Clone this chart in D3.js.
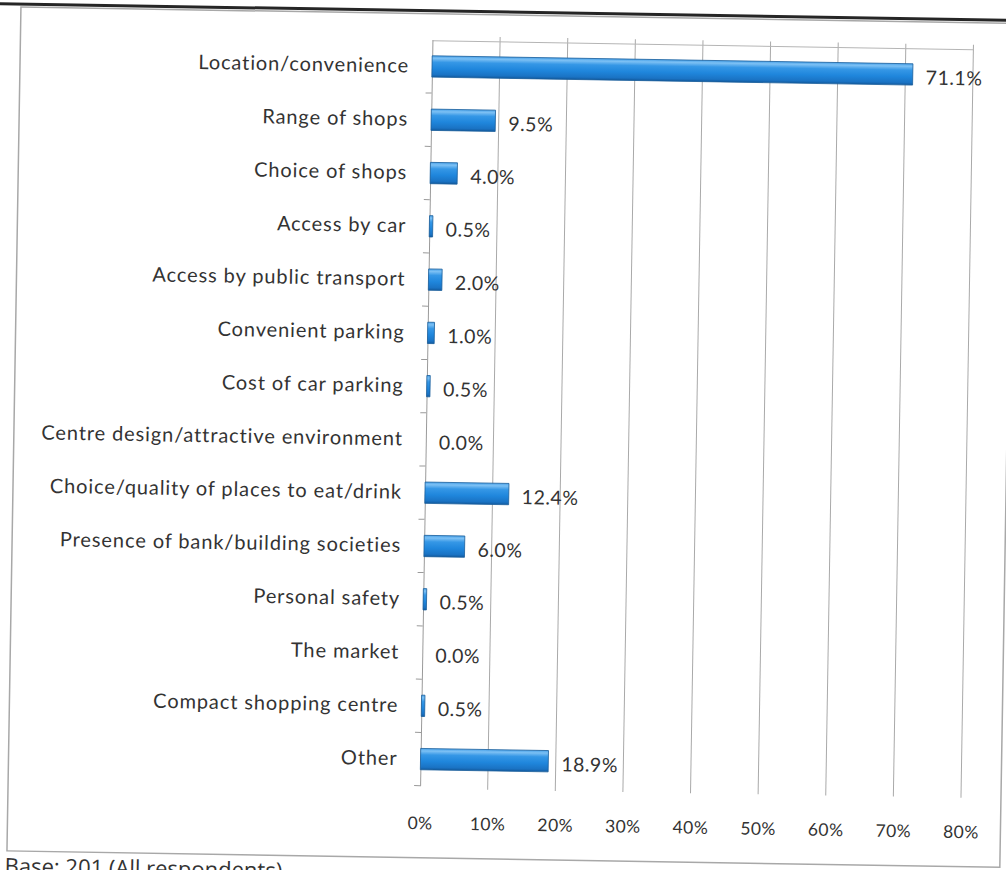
<!DOCTYPE html>
<html>
<head>
<meta charset="utf-8">
<script src="https://cdn.jsdelivr.net/npm/d3@7"></script>
<style>
  html, body { margin: 0; padding: 0; background: #fff; overflow: hidden; }
  svg { display: block; }
  text { font-family: Lato, "Open Sans", sans-serif; fill: #333; }
</style>
</head>
<body>
<svg id="chart" width="1006" height="870"></svg>
<script>
// Reasons for visiting the centre (% of respondents)
const categories = [
  "Location/convenience",
  "Range of shops",
  "Choice of shops",
  "Access by car",
  "Access by public transport",
  "Convenient parking",
  "Cost of car parking",
  "Centre design/attractive environment",
  "Choice/quality of places to eat/drink",
  "Presence of bank/building societies",
  "Personal safety",
  "The market",
  "Compact shopping centre",
  "Other"
];
const values = [71.1, 9.5, 4.0, 0.5, 2.0, 1.0, 0.5, 0.0, 12.4, 6.0, 0.5, 0.0, 0.5, 18.9];
const tickValues = [0, 10, 20, 30, 40, 50, 60, 70, 80];
const tickLabels = ["0%", "10%", "20%", "30%", "40%", "50%", "60%", "70%", "80%"];
const baseNote = "Base: 201 (All respondents)";

const data = categories.map((c, i) => ({ category: c, value: values[i] }));

const svg = d3.select("#chart");

// gradient for the bevelled bars
const defs = svg.append("defs");
const grad = defs.append("linearGradient")
  .attr("id", "barGrad").attr("x1", 0).attr("y1", 0).attr("x2", 0).attr("y2", 1);
[
  [0, "#4aa3ea"], [0.12, "#7cc0f4"], [0.3, "#3597e6"],
  [0.6, "#1f86dc"], [0.88, "#1a73c4"], [1, "#125a9e"]
].forEach(([o, c]) => grad.append("stop").attr("offset", o).attr("stop-color", c));

// whole page is drawn slightly tilted
const page = svg.append("g").attr("transform", "rotate(0.95 500 430)");

// outer chart frame and page edge
page.append("rect")
  .attr("x", 14).attr("y", 15).attr("width", 993).attr("height", 844)
  .attr("fill", "#fff").attr("stroke", "#a8a8a8").attr("stroke-width", 1.5);
page.append("line")
  .attr("x1", -20).attr("x2", 1040).attr("y1", 12).attr("y2", 12)
  .attr("stroke", "#262626").attr("stroke-width", 3);

const x = d3.scaleLinear().domain([0, 80]).range([426, 967]);
const y = d3.scaleBand().domain(categories).range([41, 787]).paddingInner(0.6).paddingOuter(0.3);
const yEdge = d3.scaleBand().domain(categories).range([41, 787]);

// vertical gridlines
page.append("g").selectAll("line")
  .data(tickValues.slice(1))
  .join("line")
  .attr("x1", d => x(d)).attr("x2", d => x(d))
  .attr("y1", 37).attr("y2", 790)
  .attr("stroke", "#a9a9a9").attr("stroke-width", 1);

// top border of the plot
page.append("line")
  .attr("x1", x(0)).attr("x2", x(80)).attr("y1", 42).attr("y2", 42)
  .attr("stroke", "#b5b5b5").attr("stroke-width", 1);

// x tick labels
const xAxis = d3.axisBottom(x)
  .tickValues(tickValues)
  .tickFormat((d, i) => tickLabels[i])
  .tickSize(0).tickPadding(0);
const gx = page.append("g").attr("transform", "translate(0,818)").call(xAxis);
gx.select(".domain").remove();
gx.selectAll("text")
  .attr("font-size", 17.5).attr("fill", "#444")
  .style("letter-spacing", "0.4px")
  .style("font-family", "Lato, 'Open Sans', sans-serif");

// category axis
const yAxis = d3.axisLeft(yEdge).tickSize(0).tickPadding(23);
const gy = page.append("g").attr("transform", `translate(${x(0)},0)`).call(yAxis);
gy.select(".domain").attr("stroke", "#9a9a9a");
gy.selectAll("text")
  .attr("font-size", 20).attr("fill", "#3a3a3a")
  .style("letter-spacing", "0.9px")
  .style("font-family", "Lato, 'Open Sans', sans-serif");

// tick marks on category boundaries
page.append("g").selectAll("line")
  .data(categories.slice(1).concat([null]))
  .join("line")
  .attr("x1", x(0) - 6).attr("x2", x(0))
  .attr("y1", d => d === null ? 787 : yEdge(d))
  .attr("y2", d => d === null ? 787 : yEdge(d))
  .attr("stroke", "#9a9a9a");

// bars
page.append("g").selectAll("rect")
  .data(data.filter(d => d.value > 0))
  .join("rect")
  .attr("x", x(0))
  .attr("y", d => y(d.category))
  .attr("width", d => x(d.value) - x(0))
  .attr("height", y.bandwidth())
  .attr("fill", "url(#barGrad)")
  .attr("stroke", "#1a5e9c").attr("stroke-width", 0.8);

// value labels
page.append("g").selectAll("text")
  .data(data)
  .join("text")
  .attr("x", d => x(d.value) + 13)
  .attr("y", d => y(d.category) + y.bandwidth() / 2 + 3)
  .attr("dy", "0.35em")
  .attr("font-size", 19.5)
  .attr("fill", "#3a3a3a")
  .style("letter-spacing", "0.5px")
  .text(d => d.value.toFixed(1) + "%");

// base note under the frame
page.append("text")
  .attr("x", 12).attr("y", 882)
  .attr("font-size", 22).attr("fill", "#222")
  .style("font-family", "'Open Sans', Lato, sans-serif")
  .text(baseNote);
</script>
</body>
</html>
